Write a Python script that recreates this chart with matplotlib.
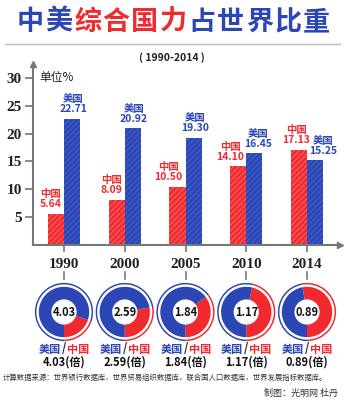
import matplotlib.pyplot as plt
import matplotlib.transforms as mtransforms

plt.rcParams['font.family'] = ['Noto Sans CJK SC', 'DejaVu Sans']

# 数据
years = ['1990', '2000', '2005', '2010', '2014']
china = [5.64, 8.09, 10.50, 14.10, 17.13]
usa = [22.71, 20.92, 19.30, 16.45, 15.25]
ratio = ['4.03', '2.59', '1.84', '1.17', '0.89']
yticks = [5, 10, 15, 20, 25, 30]

# 标签微调（像素）
cn_dx = [-5, -5, -9, -8, -3]
us_dx = [1, 1, 1, 4, 8]

RED = '#f02a2e'
BLUE = '#2c47b5'
W, H = 344, 400


def fx(px):
    return px / W


def fy(py):
    return 1 - py / H


fig = plt.figure(figsize=(3.44, 4.0), dpi=100)
fig.patch.set_facecolor('white')

# 标题
title_parts = [('中美', BLUE), ('综合国力', RED), ('占世界比重', BLUE)]
i = 0
for part, col in title_parts:
    for ch in part:
        fig.text(fx(16 + 14.4 + 28.6 * i), fy(22), ch, color=col, fontsize=19.5,
                 fontweight='heavy', ha='center', va='center')
        i += 1
fig.add_artist(plt.Line2D([fx(5), fx(340)], [fy(44), fy(44)], color='#bbbbbb', lw=1))
fig.text(fx(172), fy(58), '( 1990-2014 )', fontsize=7.5, fontweight='bold',
         ha='center', va='center', color='#222222')

# 柱状图
ax = fig.add_axes([fx(33), fy(245), fx(340) - fx(33), fy(64) - fy(245)])
x = list(range(len(years)))
bw = 0.265
ax.bar([v - bw / 2 for v in x], china, width=bw, color=RED, edgecolor='#f9585b',
       hatch='//////', linewidth=0)
ax.bar([v + bw / 2 for v in x], usa, width=bw, color=BLUE, edgecolor='#3f5bc4',
       hatch='//////', linewidth=0)
ax.set_xlim(-0.51, 4.54)
ax.set_ylim(0, 32.5)
for s in ['top', 'right']:
    ax.spines[s].set_visible(False)
for s in ['left', 'bottom']:
    ax.spines[s].set_color('#777777')
    ax.spines[s].set_linewidth(1.5)
ax.set_yticks(yticks)
ax.set_yticklabels([str(t) for t in yticks], fontfamily='Liberation Serif',
                   fontsize=11, fontweight='bold', color='#222222')
ax.set_xticks(x)
ax.set_xticklabels([])
ax.tick_params(axis='y', direction='out', length=6, width=1.2, color='#777777', pad=2)
ax.tick_params(axis='x', direction='out', length=5, width=1.2, color='#777777')
ax.plot(0, 1, '^', color='#777777', ms=5, transform=ax.transAxes, clip_on=False)
ax.plot(1, 0, '>', color='#777777', ms=5, transform=ax.transAxes, clip_on=False)
ax.text(0.02, 30, '单位%', fontsize=8.5, color='#222222', va='center', ha='left',
        transform=mtransforms.blended_transform_factory(ax.transAxes, ax.transData))

unit = 60.75  # 每个类别的像素宽度
for i in x:
    ax.text(i - bw / 2 + cn_dx[i] / unit, china[i] + 0.8, '中国\n%.2f' % china[i],
            color=RED, fontsize=7.5, fontweight='bold', ha='center', va='bottom',
            linespacing=1.0)
    ax.text(i + bw / 2 + us_dx[i] / unit, usa[i] + 0.8, '美国\n%.2f' % usa[i],
            color=BLUE, fontsize=7.5, fontweight='bold', ha='center', va='bottom',
            linespacing=1.0)

# 年份与圆环
trans = mtransforms.blended_transform_factory(ax.transData, fig.transFigure)
for i in x:
    fig.text(0, 0, years[i], transform=trans, fontfamily='Liberation Serif',
             fontweight='bold', fontsize=11, ha='center', va='center',
             color='#222222').set_position((i, fy(264)))
    fig.add_artist(plt.Line2D([i, i], [fy(272), fy(279)], color='#777777', lw=1.2,
                              transform=trans))
    cx = 64 + unit * i
    cy = 312
    dax = fig.add_axes([fx(cx - 30), fy(cy + 30), fx(60), 60 / H])
    dax.set_aspect('equal')
    vals = [china[i], usa[i]]
    dax.pie(vals, colors=[RED, BLUE], startangle=270, counterclock=True, radius=0.97,
            wedgeprops=dict(width=0.05, linewidth=0))
    dax.pie(vals, colors=[RED, BLUE], startangle=270, counterclock=True, radius=0.84,
            wedgeprops=dict(width=0.42, linewidth=0))
    dax.set_xlim(-1, 1)
    dax.set_ylim(-1, 1)
    dax.text(0, 0, ratio[i], fontsize=8, fontweight='bold', ha='center', va='center',
             color='#111111')
    dax.axis('off')
    fig.text(fx(cx - 3), fy(349), '美国', color=BLUE, fontsize=8, fontweight='bold',
             ha='right', va='center')
    fig.text(fx(cx), fy(349), '/', color='#222222', fontsize=8, fontweight='bold',
             ha='center', va='center')
    fig.text(fx(cx + 3), fy(349), '中国', color=RED, fontsize=8, fontweight='bold',
             ha='left', va='center')
    fig.text(fx(cx), fy(362), ratio[i] + '(倍)', color='#111111', fontsize=8,
             fontweight='bold', ha='center', va='center')

fig.text(fx(3), fy(378), '计算数据来源：世界银行数据库，世界贸易组织数据库，联合国人口数据库，世界发展指标数据库。',
         fontsize=5.3, color='#333333', ha='left', va='center')
fig.text(fx(338), fy(393), '制图：光明网 杜丹', fontsize=6.5, color='#333333',
         ha='right', va='center')

fig.savefig('out.png', dpi=100, facecolor='white')
